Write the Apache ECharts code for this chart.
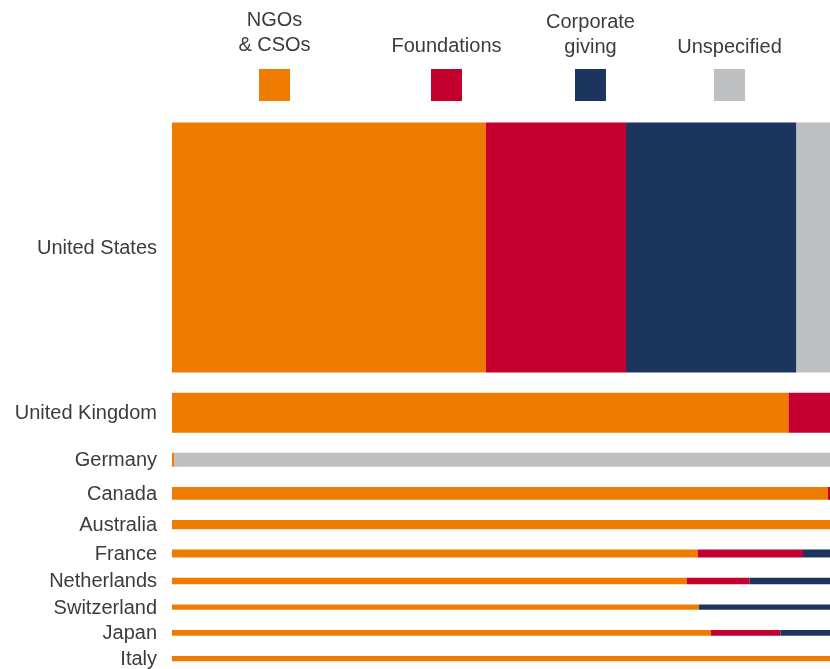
<!DOCTYPE html>
<html>
<head>
<meta charset="utf-8">
<script src="https://cdn.jsdelivr.net/npm/echarts@6/dist/echarts.min.js"></script>
<style>html,body{margin:0;padding:0;background:#fff}#c{width:830px;height:669px}</style>
</head>
<body>
<div id="c"></div>
<script>
// Countries (top to bottom)
const countries = ['United States','United Kingdom','Germany','Canada','Australia','France','Netherlands','Switzerland','Japan','Italy'];
// Total giving (index, United States = 100) -> bar thickness
const totals = [100, 16, 5.6, 5.1, 3.7, 3.2, 2.65, 2.1, 2.3, 2.15];
// Share of each source in % of country total
const ngoShare         = [47.7, 93.7, 0.3, 99.7, 100, 79.9, 78.2, 80.1, 81.9, 100];
const foundationShare  = [21.3,  6.3, 0,    0.3,   0, 16.0,  9.6,  0,   10.6,   0];
const corporateShare   = [25.9,  0,   0,    0,     0,  4.1, 12.2, 19.9,  7.5,   0];
const unspecifiedShare = [ 5.1,  0,  99.7,  0,     0,  0,    0,    0,    0,     0];
const seriesNames = ['NGOs & CSOs','Foundations','Corporate giving','Unspecified'];
const legendLines = [['NGOs','& CSOs'],['Foundations'],['Corporate','giving'],['Unspecified']];
const colors = ['#EE7A00','#C4002F','#1C355E','#BEBFC1'];
const gapUnits = 8.08;

const shares = [ngoShare, foundationShare, corporateShare, unspecifiedShare];

// vertical extents of each country band
const yStart = [], yEnd = [];
let acc = 0;
totals.forEach((t, i) => {
  if (i > 0) acc += gapUnits;
  yStart.push(acc);
  acc += t;
  yEnd.push(acc);
});
const yMax = acc;

function segData(k) {
  return countries.map((c, i) => {
    let x0 = 0;
    for (let j = 0; j < k; j++) x0 += shares[j][i];
    return [x0, x0 + shares[k][i], yStart[i], yEnd[i], c];
  });
}

function makeRender(color) {
  return function (params, api) {
    const a = api.coord([api.value(0), api.value(2)]);
    const b = api.coord([api.value(1), api.value(3)]);
    const w = b[0] - a[0];
    if (w <= 0) return null;
    return {
      type: 'rect',
      shape: { x: a[0], y: Math.min(a[1], b[1]), width: w, height: Math.abs(b[1] - a[1]) },
      style: { fill: color }
    };
  };
}

const series = seriesNames.map((n, k) => ({
  type: 'custom',
  name: n,
  renderItem: makeRender(colors[k]),
  encode: { x: [0, 1], y: [2, 3] },
  data: segData(k),
  silent: true
}));

// country labels
series.push({
  type: 'custom',
  name: 'labels',
  silent: true,
  encode: { x: 0, y: [1, 2] },
  data: countries.map((c, i) => [0, yStart[i], yEnd[i], c]),
  renderItem: function (params, api) {
    const mid = (api.value(1) + api.value(2)) / 2;
    const p = api.coord([0, mid]);
    return {
      type: 'text',
      style: {
        x: p[0] - 15, y: p[1] + 1,
        text: countries[params.dataIndex],
        align: 'right', verticalAlign: 'middle',
        font: '20px "Liberation Sans", Arial, sans-serif',
        fill: '#3C3C3C'
      }
    };
  }
});

// legend drawn as graphics (text above square)
const legendX = [274.5, 446.5, 590.5, 729.5];
const legendBaselines = [[30, 55], [56], [32, 57], [57]];
const graphics = [];
legendLines.forEach((lines, k) => {
  lines.forEach((ln, li) => {
    graphics.push({
      type: 'text',
      left: null,
      x: legendX[k], y: legendBaselines[k][li],
      style: {
        text: ln, align: 'center', verticalAlign: 'bottom',
        font: '20px "Liberation Sans", Arial, sans-serif',
        fill: '#3C3C3C'
      }
    });
  });
  graphics.push({
    type: 'rect',
    shape: { x: legendX[k] - 15.5, y: 69, width: 31, height: 32 },
    style: { fill: colors[k] }
  });
});

const chart = echarts.init(document.getElementById('c'));
chart.setOption({
  animation: false,
  grid: { left: 172, right: 0, top: 122.5, height: 538.75 },
  xAxis: { type: 'value', min: 0, max: 100, show: false },
  yAxis: { type: 'value', min: 0, max: yMax, inverse: true, show: false },
  graphic: graphics,
  series: series
});
</script>
</body>
</html>
